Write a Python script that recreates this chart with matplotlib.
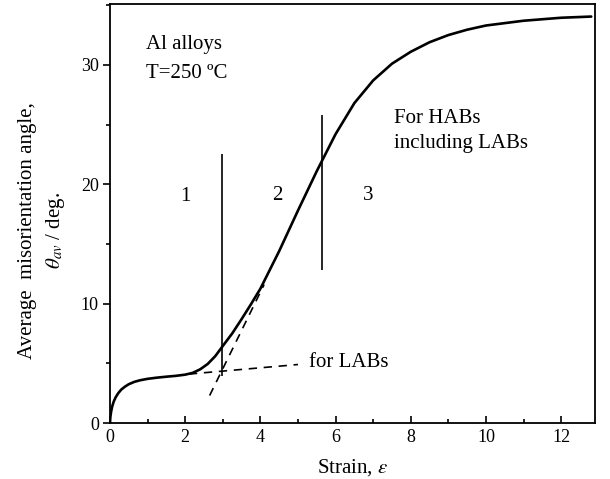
import matplotlib
matplotlib.use("Agg")
import matplotlib.pyplot as plt
from matplotlib.ticker import MultipleLocator

plt.rcParams['font.family'] = ['Liberation Serif', 'DejaVu Serif']
plt.rcParams['mathtext.fontset'] = 'stix'

# Main curve (strain vs average misorientation angle)
strain = [0.0, 0.01, 0.03, 0.06, 0.1, 0.15, 0.22, 0.3, 0.4, 0.5, 0.65, 0.8, 1.0, 1.25, 1.5,
          1.75, 2.0, 2.2, 2.4, 2.6, 2.8, 3.0, 3.25, 3.5, 3.75, 4.0,
          4.5, 5.0, 5.5, 6.0, 6.5, 7.0, 7.5, 8.0, 8.5, 9.0, 9.5, 10.0, 11.0, 12.0, 12.8]
theta = [0.0, 0.5, 0.95, 1.4, 1.8, 2.15, 2.5, 2.8, 3.05, 3.25, 3.45, 3.58, 3.7, 3.8, 3.88,
         3.95, 4.05, 4.2, 4.5, 4.95, 5.6, 6.45, 7.5, 8.7, 9.95, 11.25,
         14.4, 17.8, 21.1, 24.2, 26.8, 28.7, 30.1, 31.1, 31.9, 32.5, 32.95, 33.3, 33.7, 33.95, 34.05]

# Dashed extrapolation lines
lab_x = [2.1, 5.0]
lab_y = [4.1, 4.9]
steep_x = [2.65, 4.1]
steep_y = [2.3, 11.6]

# Vertical stage boundaries
vlines_x = [2.97, 5.64]
vlines_ymin = [3.9, 12.8]
vlines_ymax = [22.5, 25.8]

stage_labels = ["1", "2", "3"]
stage_x = [2.0, 4.45, 6.86]
stage_y = [19.0, 19.1, 19.1]

fig = plt.figure(figsize=(6.1, 4.79), dpi=100)
ax = fig.add_axes([0.1803, 0.1169, 0.7951, 0.8747])

ax.plot(strain, theta, color='black', lw=1.9, solid_capstyle='round')
ax.plot(lab_x, lab_y, color='black', lw=1.2, ls=(0, (5, 4)))
ax.plot(steep_x, steep_y, color='black', lw=1.2, ls=(0, (5, 4)))
ax.vlines(vlines_x, vlines_ymin, vlines_ymax, color='black', lw=1.2)

fs = 15
for s, x, y in zip(stage_labels, stage_x, stage_y):
    ax.text(x, y, s, fontsize=fs, ha='center', va='center')

ax.text(0.95, 31.7, "Al alloys", fontsize=fs, ha='left', va='center')
ax.text(0.95, 29.3, "T=250 ºC", fontsize=fs, ha='left', va='center')
ax.text(7.55, 25.5, "For HABs", fontsize=fs, ha='left', va='center')
ax.text(7.55, 23.4, "including LABs", fontsize=fs, ha='left', va='center')
ax.text(5.3, 5.1, "for LABs", fontsize=fs, ha='left', va='center')

ax.set_xlim(0, 12.9)
ax.set_ylim(0, 35.1)
ax.xaxis.set_major_locator(MultipleLocator(2))
ax.xaxis.set_minor_locator(MultipleLocator(1))
ax.yaxis.set_major_locator(MultipleLocator(10))
ax.yaxis.set_minor_locator(MultipleLocator(5))
ax.tick_params(axis='x', which='major', direction='in', length=5, width=1.2, labelsize=13, pad=4)
ax.tick_params(axis='x', which='minor', direction='in', length=3, width=1.2)
ax.tick_params(axis='y', which='major', direction='out', length=5, width=1.2, labelsize=13, pad=3)
ax.tick_params(axis='y', which='minor', direction='out', length=3, width=1.2)
for sp in ax.spines.values():
    sp.set_linewidth(1.3)

ax.set_xlabel(r"Strain, $\varepsilon$", fontsize=fs, labelpad=8)
ax.set_ylabel("Average  misorientation angle,\n" + r"$\theta_{av}$ / deg.", fontsize=fs,
              linespacing=1.45)
ax.yaxis.set_label_coords(-0.088, 0.46)

fig.savefig("out.png", dpi=100)
